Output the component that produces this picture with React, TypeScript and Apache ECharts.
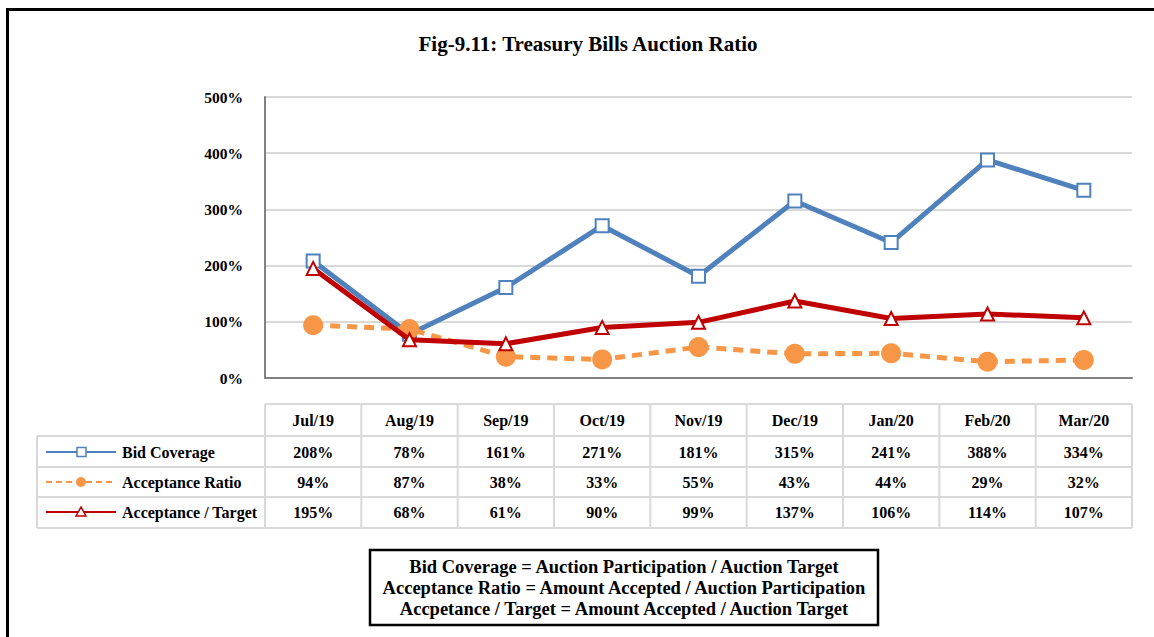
import React, { useEffect, useRef } from "react";
import * as echarts from "echarts";

const title = "Fig-9.11: Treasury Bills Auction Ratio";
const categories = ["Jul/19", "Aug/19", "Sep/19", "Oct/19", "Nov/19", "Dec/19", "Jan/20", "Feb/20", "Mar/20"];
const bidCoverage = [208, 78, 161, 271, 181, 315, 241, 388, 334];
const acceptanceRatio = [94, 87, 38, 33, 55, 43, 44, 29, 32];
const acceptanceTarget = [195, 68, 61, 90, 99, 137, 106, 114, 107];
const seriesNames = ["Bid Coverage", "Acceptance Ratio", "Acceptance / Target"];
const formulas = [
  "Bid Coverage = Auction Participation / Auction Target",
  "Acceptance Ratio = Amount Accepted / Auction Participation",
  "Accpetance / Target = Amount Accepted / Auction Target",
];

const FONT = "'Liberation Serif', 'Times New Roman', serif";
const BLUE = "#4F81BD";
const ORANGE = "#F79646";
const RED = "#C00000";
const GRID_LINE = "#D9D9D9";

export default function App() {
  const ref = useRef<HTMLDivElement>(null);

  useEffect(() => {
    if (!ref.current) return;
    const chart = echarts.init(ref.current, undefined, { renderer: "svg" });

    const L = 265;
    const R = 1132;
    const colW = (R - L) / categories.length;
    const tableLeft = 37;
    const hTop = 404;
    const rowLines = [436, 467, 497, 528];
    const rowCenters = [452, 482, 512];
    const headerCenter = 420;

    const g: any[] = [];
    g.push({
      type: "rect",
      shape: { x: 7.5, y: 9.5, width: 1400, height: 900 },
      style: { fill: "none", stroke: "#000", lineWidth: 3 },
    });
    const lineStyle = { stroke: GRID_LINE, lineWidth: 2 };
    g.push({ type: "line", shape: { x1: L, y1: hTop, x2: R, y2: hTop }, style: lineStyle });
    rowLines.forEach((y) =>
      g.push({ type: "line", shape: { x1: tableLeft, y1: y, x2: R, y2: y }, style: lineStyle })
    );
    for (let i = 0; i <= categories.length; i++) {
      const x = L + colW * i;
      g.push({ type: "line", shape: { x1: x, y1: hTop, x2: x, y2: rowLines[3] }, style: lineStyle });
    }
    g.push({ type: "line", shape: { x1: tableLeft, y1: rowLines[0], x2: tableLeft, y2: rowLines[3] }, style: lineStyle });

    const textStyle = (extra: any) => ({
      fontFamily: FONT,
      fontWeight: "bold",
      fontSize: 16,
      fill: "#000",
      ...extra,
    });

    categories.forEach((c, i) => {
      g.push({
        type: "text",
        style: textStyle({ text: c, x: L + colW * (i + 0.5), y: headerCenter, align: "center", verticalAlign: "middle" }),
      });
    });
    const allData = [bidCoverage, acceptanceRatio, acceptanceTarget];
    allData.forEach((arr, r) => {
      arr.forEach((v, i) => {
        g.push({
          type: "text",
          style: textStyle({ text: `${v}%`, x: L + colW * (i + 0.5), y: rowCenters[r], align: "center", verticalAlign: "middle" }),
        });
      });
    });
    const colors = [BLUE, ORANGE, RED];
    seriesNames.forEach((name, r) => {
      const y = rowCenters[r];
      g.push({
        type: "line",
        shape: { x1: 46, y1: y, x2: 116, y2: y },
        style: { stroke: colors[r], lineWidth: 2, lineDash: r === 1 ? [6, 4] : null },
      });
      if (r === 0) {
        g.push({ type: "rect", shape: { x: 77, y: y - 4.5, width: 9, height: 9 }, style: { fill: "#fff", stroke: BLUE, lineWidth: 1.5 } });
      } else if (r === 1) {
        g.push({ type: "circle", shape: { cx: 81, cy: y, r: 5 }, style: { fill: ORANGE } });
      } else {
        g.push({
          type: "polygon",
          shape: { points: [[81, y - 5], [76, y + 4], [86, y + 4]] },
          style: { fill: "#fff", stroke: RED, lineWidth: 1.5 },
        });
      }
      g.push({
        type: "text",
        style: textStyle({ text: name, x: 122, y, align: "left", verticalAlign: "middle" }),
      });
    });

    g.push({
      type: "rect",
      shape: { x: 370, y: 550, width: 508, height: 75 },
      style: { fill: "#fff", stroke: "#000", lineWidth: 2.5 },
    });
    formulas.forEach((f, i) => {
      g.push({
        type: "text",
        style: textStyle({ text: f, x: 624, y: 567 + i * 21, align: "center", verticalAlign: "middle", fontSize: 18.5 }),
      });
    });

    const option: any = {
      animation: false,
      backgroundColor: "#fff",
      title: {
        text: title,
        left: 583,
        textAlign: "center",
        top: 28,
        textStyle: { fontFamily: FONT, fontWeight: "bold", fontSize: 21, color: "#000" },
      },
      grid: { left: L, right: 1154 - R, top: 97, height: 281, containLabel: false },
      xAxis: {
        type: "category",
        data: categories,
        boundaryGap: true,
        axisLine: { show: true, lineStyle: { color: "#808080", width: 2 } },
        axisTick: { show: false },
        axisLabel: { show: false },
        splitLine: { show: false },
      },
      yAxis: {
        type: "value",
        min: 0,
        max: 500,
        interval: 100,
        axisLine: { show: true, lineStyle: { color: "#808080", width: 2 } },
        axisTick: { show: false },
        axisLabel: {
          formatter: (v: number) => `${v}%`,
          fontFamily: FONT,
          fontWeight: "bold",
          fontSize: 15.5,
          color: "#000",
          margin: 22,
        },
        splitLine: { show: true, lineStyle: { color: GRID_LINE, width: 2 } },
      },
      series: [
        {
          name: seriesNames[0],
          type: "line",
          data: bidCoverage,
          symbol: "rect",
          symbolSize: 13,
          lineStyle: { color: BLUE, width: 5 },
          itemStyle: { color: "#fff", borderColor: BLUE, borderWidth: 2 },
          z: 2,
        },
        {
          name: seriesNames[1],
          type: "line",
          data: acceptanceRatio,
          symbol: "circle",
          symbolSize: 20,
          lineStyle: { color: ORANGE, width: 5, type: [10, 7] },
          itemStyle: { color: ORANGE, borderWidth: 0 },
          z: 3,
        },
        {
          name: seriesNames[2],
          type: "line",
          data: acceptanceTarget,
          symbol: "triangle",
          symbolSize: 13,
          lineStyle: { color: RED, width: 5 },
          itemStyle: { color: "#fff", borderColor: RED, borderWidth: 2 },
          z: 4,
        },
      ],
      graphic: g,
    };
    chart.setOption(option);
    return () => chart.dispose();
  }, []);

  return (
    <div
      ref={ref}
      style={{ position: "fixed", left: 0, top: 0, width: 1154, height: 637, background: "#fff" }}
    />
  );
}
